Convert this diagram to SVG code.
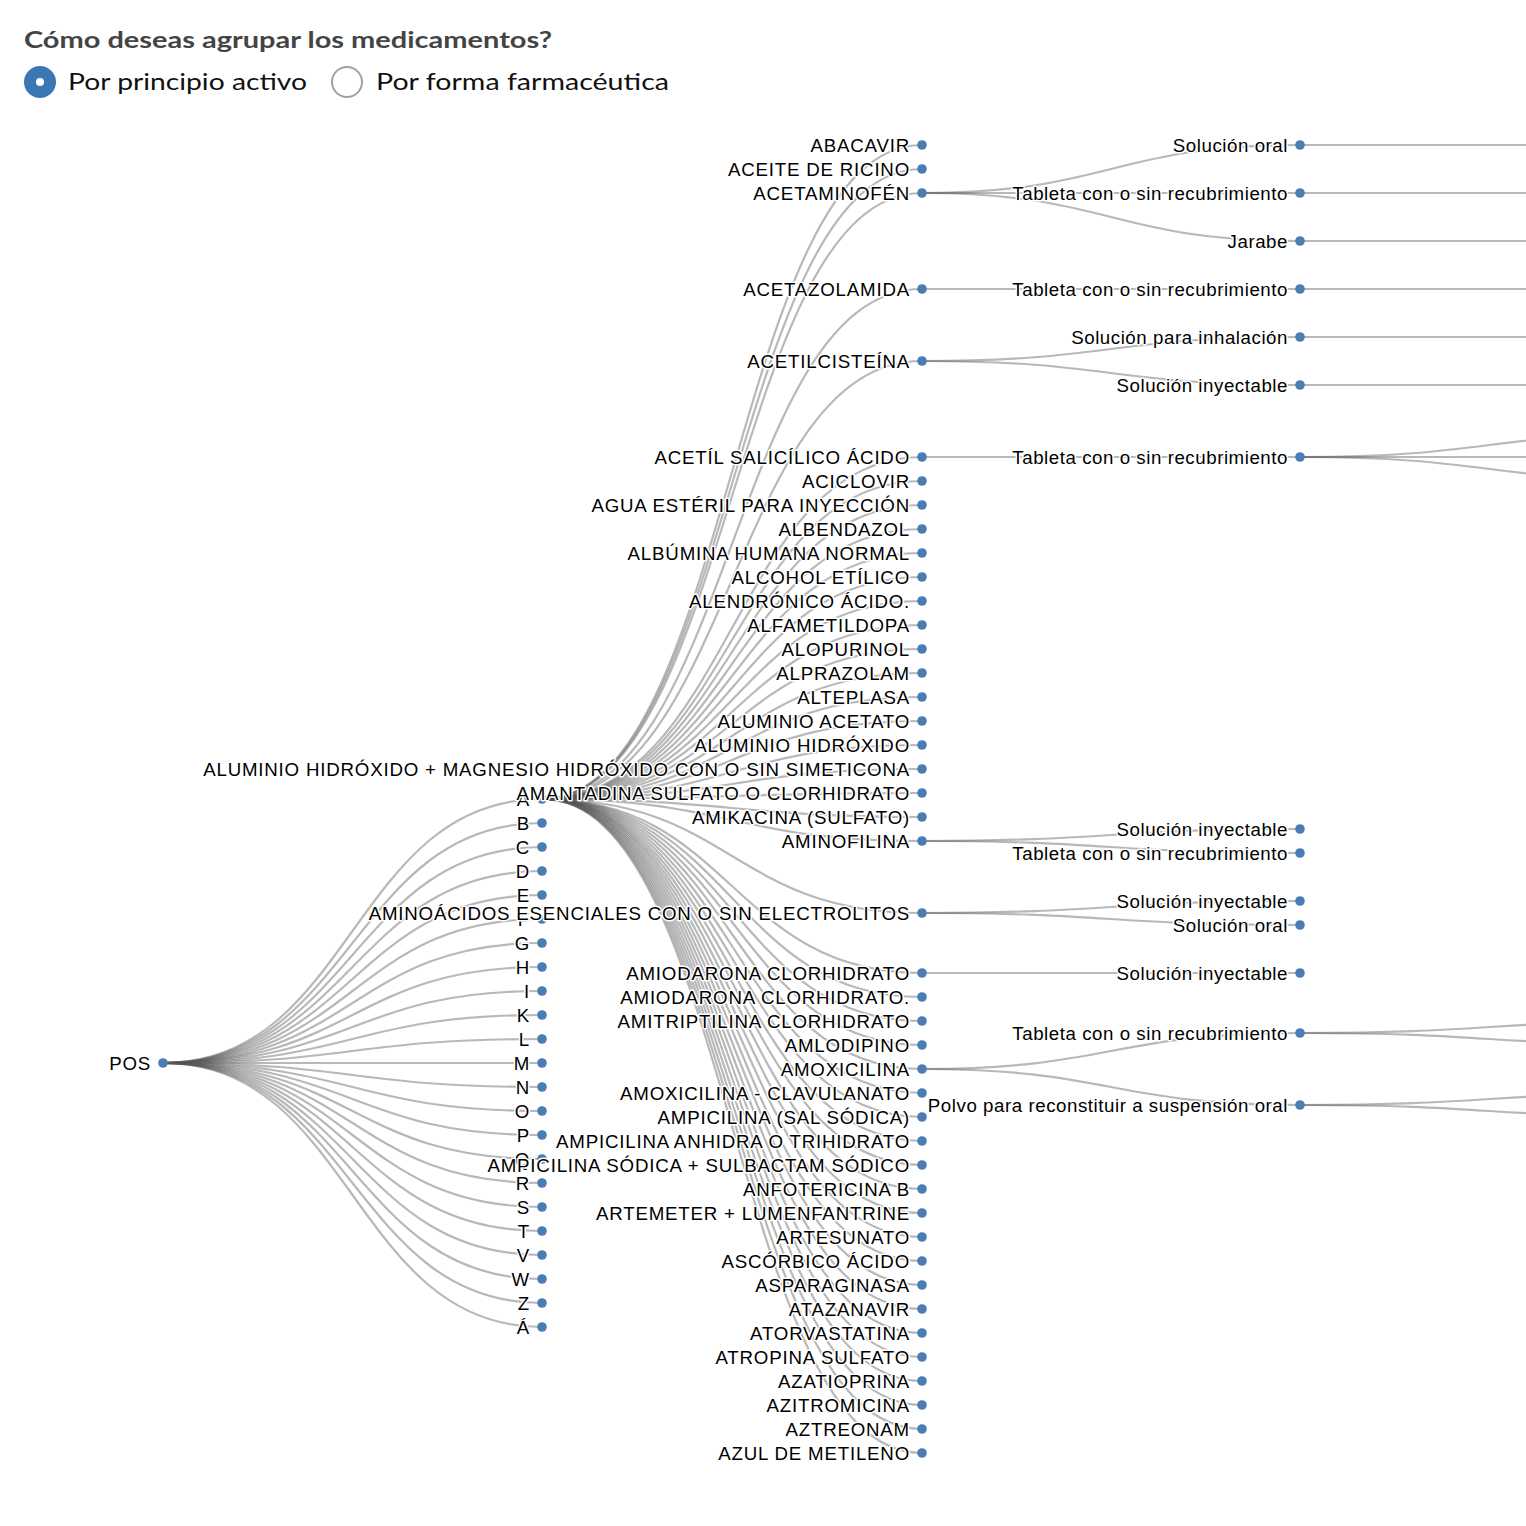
<svg xmlns="http://www.w3.org/2000/svg" width="1526" height="1526" viewBox="0 0 1526 1526">
<style>
.hdr{font-family:"Lato","Open Sans","Liberation Sans",sans-serif;font-weight:700;font-size:22px;fill:#444}
.opt{font-family:"Lato","Open Sans","Liberation Sans",sans-serif;font-size:24px;fill:#111}
.links path{fill:none;stroke:#555;stroke-opacity:0.42;stroke-width:2.2}
.node circle{fill:#4a7db4}
.node text{font-family:"Liberation Sans",Arial,Helvetica,sans-serif;font-size:18.7px;letter-spacing:0.8px;fill:#000;text-anchor:end;stroke:#fff;stroke-width:3px;stroke-linejoin:round;paint-order:stroke}
.node.form text{letter-spacing:0.55px}
</style>
<rect width="1526" height="1526" fill="#fff"/>
<g id="header">
<text class="hdr" x="24" y="48" textLength="528" lengthAdjust="spacingAndGlyphs">Cómo deseas agrupar los medicamentos?</text>
<circle cx="40" cy="82" r="16" fill="#3a78b5"/>
<circle cx="40" cy="82" r="4" fill="#fff"/>
<text class="opt" x="68" y="90" textLength="239" lengthAdjust="spacingAndGlyphs">Por principio activo</text>
<circle cx="347" cy="82" r="15" fill="#fff" stroke="#a0a0a0" stroke-width="2"/>
<text class="opt" x="376" y="90" textLength="293" lengthAdjust="spacingAndGlyphs">Por forma farmacéutica</text>
</g>
<g id="connectors" class="links">
<path d="M163,1063C352.5,1063 352.5,799 542,799"/>
<path d="M163,1063C352.5,1063 352.5,823 542,823"/>
<path d="M163,1063C352.5,1063 352.5,847 542,847"/>
<path d="M163,1063C352.5,1063 352.5,871 542,871"/>
<path d="M163,1063C352.5,1063 352.5,895 542,895"/>
<path d="M163,1063C352.5,1063 352.5,919 542,919"/>
<path d="M163,1063C352.5,1063 352.5,943 542,943"/>
<path d="M163,1063C352.5,1063 352.5,967 542,967"/>
<path d="M163,1063C352.5,1063 352.5,991 542,991"/>
<path d="M163,1063C352.5,1063 352.5,1015 542,1015"/>
<path d="M163,1063C352.5,1063 352.5,1039 542,1039"/>
<path d="M163,1063C352.5,1063 352.5,1063 542,1063"/>
<path d="M163,1063C352.5,1063 352.5,1087 542,1087"/>
<path d="M163,1063C352.5,1063 352.5,1111 542,1111"/>
<path d="M163,1063C352.5,1063 352.5,1135 542,1135"/>
<path d="M163,1063C352.5,1063 352.5,1159 542,1159"/>
<path d="M163,1063C352.5,1063 352.5,1183 542,1183"/>
<path d="M163,1063C352.5,1063 352.5,1207 542,1207"/>
<path d="M163,1063C352.5,1063 352.5,1231 542,1231"/>
<path d="M163,1063C352.5,1063 352.5,1255 542,1255"/>
<path d="M163,1063C352.5,1063 352.5,1279 542,1279"/>
<path d="M163,1063C352.5,1063 352.5,1303 542,1303"/>
<path d="M163,1063C352.5,1063 352.5,1327 542,1327"/>
<path d="M542,799C732,799 732,145 922,145"/>
<path d="M542,799C732,799 732,169 922,169"/>
<path d="M542,799C732,799 732,193 922,193"/>
<path d="M542,799C732,799 732,289 922,289"/>
<path d="M542,799C732,799 732,361 922,361"/>
<path d="M542,799C732,799 732,457 922,457"/>
<path d="M542,799C732,799 732,481 922,481"/>
<path d="M542,799C732,799 732,505 922,505"/>
<path d="M542,799C732,799 732,529 922,529"/>
<path d="M542,799C732,799 732,553 922,553"/>
<path d="M542,799C732,799 732,577 922,577"/>
<path d="M542,799C732,799 732,601 922,601"/>
<path d="M542,799C732,799 732,625 922,625"/>
<path d="M542,799C732,799 732,649 922,649"/>
<path d="M542,799C732,799 732,673 922,673"/>
<path d="M542,799C732,799 732,697 922,697"/>
<path d="M542,799C732,799 732,721 922,721"/>
<path d="M542,799C732,799 732,745 922,745"/>
<path d="M542,799C732,799 732,769 922,769"/>
<path d="M542,799C732,799 732,793 922,793"/>
<path d="M542,799C732,799 732,817 922,817"/>
<path d="M542,799C732,799 732,841 922,841"/>
<path d="M542,799C732,799 732,913 922,913"/>
<path d="M542,799C732,799 732,973 922,973"/>
<path d="M542,799C732,799 732,997 922,997"/>
<path d="M542,799C732,799 732,1021 922,1021"/>
<path d="M542,799C732,799 732,1045 922,1045"/>
<path d="M542,799C732,799 732,1069 922,1069"/>
<path d="M542,799C732,799 732,1093 922,1093"/>
<path d="M542,799C732,799 732,1117 922,1117"/>
<path d="M542,799C732,799 732,1141 922,1141"/>
<path d="M542,799C732,799 732,1165 922,1165"/>
<path d="M542,799C732,799 732,1189 922,1189"/>
<path d="M542,799C732,799 732,1213 922,1213"/>
<path d="M542,799C732,799 732,1237 922,1237"/>
<path d="M542,799C732,799 732,1261 922,1261"/>
<path d="M542,799C732,799 732,1285 922,1285"/>
<path d="M542,799C732,799 732,1309 922,1309"/>
<path d="M542,799C732,799 732,1333 922,1333"/>
<path d="M542,799C732,799 732,1357 922,1357"/>
<path d="M542,799C732,799 732,1381 922,1381"/>
<path d="M542,799C732,799 732,1405 922,1405"/>
<path d="M542,799C732,799 732,1429 922,1429"/>
<path d="M542,799C732,799 732,1453 922,1453"/>
<path d="M922,193C1111,193 1111,145 1300,145"/>
<path d="M922,193C1111,193 1111,193 1300,193"/>
<path d="M922,193C1111,193 1111,241 1300,241"/>
<path d="M922,289C1111,289 1111,289 1300,289"/>
<path d="M922,361C1111,361 1111,337 1300,337"/>
<path d="M922,361C1111,361 1111,385 1300,385"/>
<path d="M922,457C1111,457 1111,457 1300,457"/>
<path d="M922,841C1111,841 1111,829 1300,829"/>
<path d="M922,841C1111,841 1111,853 1300,853"/>
<path d="M922,913C1111,913 1111,901 1300,901"/>
<path d="M922,913C1111,913 1111,925 1300,925"/>
<path d="M922,973C1111,973 1111,973 1300,973"/>
<path d="M922,1069C1111,1069 1111,1033 1300,1033"/>
<path d="M922,1069C1111,1069 1111,1105 1300,1105"/>
<path d="M1300,145C1489.5,145 1489.5,145 1679,145"/>
<path d="M1300,193C1489.5,193 1489.5,193 1679,193"/>
<path d="M1300,241C1489.5,241 1489.5,241 1679,241"/>
<path d="M1300,289C1489.5,289 1489.5,289 1679,289"/>
<path d="M1300,337C1489.5,337 1489.5,337 1679,337"/>
<path d="M1300,385C1489.5,385 1489.5,385 1679,385"/>
<path d="M1300,457C1489.5,457 1489.5,433 1679,433"/>
<path d="M1300,457C1489.5,457 1489.5,457 1679,457"/>
<path d="M1300,457C1489.5,457 1489.5,481 1679,481"/>
<path d="M1300,1033C1489.5,1033 1489.5,1021 1679,1021"/>
<path d="M1300,1033C1489.5,1033 1489.5,1045 1679,1045"/>
<path d="M1300,1105C1489.5,1105 1489.5,1093 1679,1093"/>
<path d="M1300,1105C1489.5,1105 1489.5,1117 1679,1117"/>
</g>
<g id="nodes">
<g id="n-pos" class="node"><circle cx="163" cy="1063" r="4.8"/><text x="151" y="1069.5">POS</text></g>
<g id="n-a" class="node"><circle cx="542" cy="799" r="4.8"/><text x="530" y="805.5">A</text></g>
<g id="n-b" class="node"><circle cx="542" cy="823" r="4.8"/><text x="530" y="829.5">B</text></g>
<g id="n-c" class="node"><circle cx="542" cy="847" r="4.8"/><text x="530" y="853.5">C</text></g>
<g id="n-d" class="node"><circle cx="542" cy="871" r="4.8"/><text x="530" y="877.5">D</text></g>
<g id="n-e" class="node"><circle cx="542" cy="895" r="4.8"/><text x="530" y="901.5">E</text></g>
<g id="n-f" class="node"><circle cx="542" cy="919" r="4.8"/><text x="530" y="925.5">F</text></g>
<g id="n-g" class="node"><circle cx="542" cy="943" r="4.8"/><text x="530" y="949.5">G</text></g>
<g id="n-h" class="node"><circle cx="542" cy="967" r="4.8"/><text x="530" y="973.5">H</text></g>
<g id="n-i" class="node"><circle cx="542" cy="991" r="4.8"/><text x="530" y="997.5">I</text></g>
<g id="n-k" class="node"><circle cx="542" cy="1015" r="4.8"/><text x="530" y="1021.5">K</text></g>
<g id="n-l" class="node"><circle cx="542" cy="1039" r="4.8"/><text x="530" y="1045.5">L</text></g>
<g id="n-m" class="node"><circle cx="542" cy="1063" r="4.8"/><text x="530" y="1069.5">M</text></g>
<g id="n-n" class="node"><circle cx="542" cy="1087" r="4.8"/><text x="530" y="1093.5">N</text></g>
<g id="n-o" class="node"><circle cx="542" cy="1111" r="4.8"/><text x="530" y="1117.5">O</text></g>
<g id="n-p" class="node"><circle cx="542" cy="1135" r="4.8"/><text x="530" y="1141.5">P</text></g>
<g id="n-q" class="node"><circle cx="542" cy="1159" r="4.8"/><text x="530" y="1165.5">Q</text></g>
<g id="n-r" class="node"><circle cx="542" cy="1183" r="4.8"/><text x="530" y="1189.5">R</text></g>
<g id="n-s" class="node"><circle cx="542" cy="1207" r="4.8"/><text x="530" y="1213.5">S</text></g>
<g id="n-t" class="node"><circle cx="542" cy="1231" r="4.8"/><text x="530" y="1237.5">T</text></g>
<g id="n-v" class="node"><circle cx="542" cy="1255" r="4.8"/><text x="530" y="1261.5">V</text></g>
<g id="n-w" class="node"><circle cx="542" cy="1279" r="4.8"/><text x="530" y="1285.5">W</text></g>
<g id="n-z" class="node"><circle cx="542" cy="1303" r="4.8"/><text x="530" y="1309.5">Z</text></g>
<g id="n-aa" class="node"><circle cx="542" cy="1327" r="4.8"/><text x="530" y="1333.5">Á</text></g>
<g id="m01" class="node"><circle cx="922" cy="145" r="4.8"/><text x="910" y="151.5">ABACAVIR</text></g>
<g id="m02" class="node"><circle cx="922" cy="169" r="4.8"/><text x="910" y="175.5">ACEITE DE RICINO</text></g>
<g id="m03" class="node"><circle cx="922" cy="193" r="4.8"/><text x="910" y="199.5">ACETAMINOFÉN</text></g>
<g id="m04" class="node"><circle cx="922" cy="289" r="4.8"/><text x="910" y="295.5">ACETAZOLAMIDA</text></g>
<g id="m05" class="node"><circle cx="922" cy="361" r="4.8"/><text x="910" y="367.5">ACETILCISTEÍNA</text></g>
<g id="m06" class="node"><circle cx="922" cy="457" r="4.8"/><text x="910" y="463.5">ACETÍL SALICÍLICO ÁCIDO</text></g>
<g id="m07" class="node"><circle cx="922" cy="481" r="4.8"/><text x="910" y="487.5">ACICLOVIR</text></g>
<g id="m08" class="node"><circle cx="922" cy="505" r="4.8"/><text x="910" y="511.5">AGUA ESTÉRIL PARA INYECCIÓN</text></g>
<g id="m09" class="node"><circle cx="922" cy="529" r="4.8"/><text x="910" y="535.5">ALBENDAZOL</text></g>
<g id="m10" class="node"><circle cx="922" cy="553" r="4.8"/><text x="910" y="559.5">ALBÚMINA HUMANA NORMAL</text></g>
<g id="m11" class="node"><circle cx="922" cy="577" r="4.8"/><text x="910" y="583.5">ALCOHOL ETÍLICO</text></g>
<g id="m12" class="node"><circle cx="922" cy="601" r="4.8"/><text x="910" y="607.5">ALENDRÓNICO ÁCIDO.</text></g>
<g id="m13" class="node"><circle cx="922" cy="625" r="4.8"/><text x="910" y="631.5">ALFAMETILDOPA</text></g>
<g id="m14" class="node"><circle cx="922" cy="649" r="4.8"/><text x="910" y="655.5">ALOPURINOL</text></g>
<g id="m15" class="node"><circle cx="922" cy="673" r="4.8"/><text x="910" y="679.5">ALPRAZOLAM</text></g>
<g id="m16" class="node"><circle cx="922" cy="697" r="4.8"/><text x="910" y="703.5">ALTEPLASA</text></g>
<g id="m17" class="node"><circle cx="922" cy="721" r="4.8"/><text x="910" y="727.5">ALUMINIO ACETATO</text></g>
<g id="m18" class="node"><circle cx="922" cy="745" r="4.8"/><text x="910" y="751.5">ALUMINIO HIDRÓXIDO</text></g>
<g id="m19" class="node"><circle cx="922" cy="769" r="4.8"/><text x="910" y="775.5">ALUMINIO HIDRÓXIDO + MAGNESIO HIDRÓXIDO CON O SIN SIMETICONA</text></g>
<g id="m20" class="node"><circle cx="922" cy="793" r="4.8"/><text x="910" y="799.5">AMANTADINA SULFATO O CLORHIDRATO</text></g>
<g id="m21" class="node"><circle cx="922" cy="817" r="4.8"/><text x="910" y="823.5">AMIKACINA (SULFATO)</text></g>
<g id="m22" class="node"><circle cx="922" cy="841" r="4.8"/><text x="910" y="847.5">AMINOFILINA</text></g>
<g id="m23" class="node"><circle cx="922" cy="913" r="4.8"/><text x="910" y="919.5">AMINOÁCIDOS ESENCIALES CON O SIN ELECTROLITOS</text></g>
<g id="m24" class="node"><circle cx="922" cy="973" r="4.8"/><text x="910" y="979.5">AMIODARONA CLORHIDRATO</text></g>
<g id="m25" class="node"><circle cx="922" cy="997" r="4.8"/><text x="910" y="1003.5">AMIODARONA CLORHIDRATO.</text></g>
<g id="m26" class="node"><circle cx="922" cy="1021" r="4.8"/><text x="910" y="1027.5">AMITRIPTILINA CLORHIDRATO</text></g>
<g id="m27" class="node"><circle cx="922" cy="1045" r="4.8"/><text x="910" y="1051.5">AMLODIPINO</text></g>
<g id="m28" class="node"><circle cx="922" cy="1069" r="4.8"/><text x="910" y="1075.5">AMOXICILINA</text></g>
<g id="m29" class="node"><circle cx="922" cy="1093" r="4.8"/><text x="910" y="1099.5">AMOXICILINA - CLAVULANATO</text></g>
<g id="m30" class="node"><circle cx="922" cy="1117" r="4.8"/><text x="910" y="1123.5">AMPICILINA (SAL SÓDICA)</text></g>
<g id="m31" class="node"><circle cx="922" cy="1141" r="4.8"/><text x="910" y="1147.5">AMPICILINA ANHIDRA O TRIHIDRATO</text></g>
<g id="m32" class="node"><circle cx="922" cy="1165" r="4.8"/><text x="910" y="1171.5">AMPICILINA SÓDICA + SULBACTAM SÓDICO</text></g>
<g id="m33" class="node"><circle cx="922" cy="1189" r="4.8"/><text x="910" y="1195.5">ANFOTERICINA B</text></g>
<g id="m34" class="node"><circle cx="922" cy="1213" r="4.8"/><text x="910" y="1219.5">ARTEMETER + LUMENFANTRINE</text></g>
<g id="m35" class="node"><circle cx="922" cy="1237" r="4.8"/><text x="910" y="1243.5">ARTESUNATO</text></g>
<g id="m36" class="node"><circle cx="922" cy="1261" r="4.8"/><text x="910" y="1267.5">ASCÓRBICO ÁCIDO</text></g>
<g id="m37" class="node"><circle cx="922" cy="1285" r="4.8"/><text x="910" y="1291.5">ASPARAGINASA</text></g>
<g id="m38" class="node"><circle cx="922" cy="1309" r="4.8"/><text x="910" y="1315.5">ATAZANAVIR</text></g>
<g id="m39" class="node"><circle cx="922" cy="1333" r="4.8"/><text x="910" y="1339.5">ATORVASTATINA</text></g>
<g id="m40" class="node"><circle cx="922" cy="1357" r="4.8"/><text x="910" y="1363.5">ATROPINA SULFATO</text></g>
<g id="m41" class="node"><circle cx="922" cy="1381" r="4.8"/><text x="910" y="1387.5">AZATIOPRINA</text></g>
<g id="m42" class="node"><circle cx="922" cy="1405" r="4.8"/><text x="910" y="1411.5">AZITROMICINA</text></g>
<g id="m43" class="node"><circle cx="922" cy="1429" r="4.8"/><text x="910" y="1435.5">AZTREONAM</text></g>
<g id="m44" class="node"><circle cx="922" cy="1453" r="4.8"/><text x="910" y="1459.5">AZUL DE METILENO</text></g>
<g id="f01" class="node form"><circle cx="1300" cy="145" r="4.8"/><text x="1288" y="151.5">Solución oral</text></g>
<g id="f02" class="node form"><circle cx="1300" cy="193" r="4.8"/><text x="1288" y="199.5">Tableta con o sin recubrimiento</text></g>
<g id="f03" class="node form"><circle cx="1300" cy="241" r="4.8"/><text x="1288" y="247.5">Jarabe</text></g>
<g id="f04" class="node form"><circle cx="1300" cy="289" r="4.8"/><text x="1288" y="295.5">Tableta con o sin recubrimiento</text></g>
<g id="f05" class="node form"><circle cx="1300" cy="337" r="4.8"/><text x="1288" y="343.5">Solución para inhalación</text></g>
<g id="f06" class="node form"><circle cx="1300" cy="385" r="4.8"/><text x="1288" y="391.5">Solución inyectable</text></g>
<g id="f07" class="node form"><circle cx="1300" cy="457" r="4.8"/><text x="1288" y="463.5">Tableta con o sin recubrimiento</text></g>
<g id="f08" class="node form"><circle cx="1300" cy="829" r="4.8"/><text x="1288" y="835.5">Solución inyectable</text></g>
<g id="f09" class="node form"><circle cx="1300" cy="853" r="4.8"/><text x="1288" y="859.5">Tableta con o sin recubrimiento</text></g>
<g id="f10" class="node form"><circle cx="1300" cy="901" r="4.8"/><text x="1288" y="907.5">Solución inyectable</text></g>
<g id="f11" class="node form"><circle cx="1300" cy="925" r="4.8"/><text x="1288" y="931.5">Solución oral</text></g>
<g id="f12" class="node form"><circle cx="1300" cy="973" r="4.8"/><text x="1288" y="979.5">Solución inyectable</text></g>
<g id="f13" class="node form"><circle cx="1300" cy="1033" r="4.8"/><text x="1288" y="1039.5">Tableta con o sin recubrimiento</text></g>
<g id="f14" class="node form"><circle cx="1300" cy="1105" r="4.8"/><text x="1288" y="1111.5">Polvo para reconstituir a suspensión oral</text></g>
</g>
</svg>
